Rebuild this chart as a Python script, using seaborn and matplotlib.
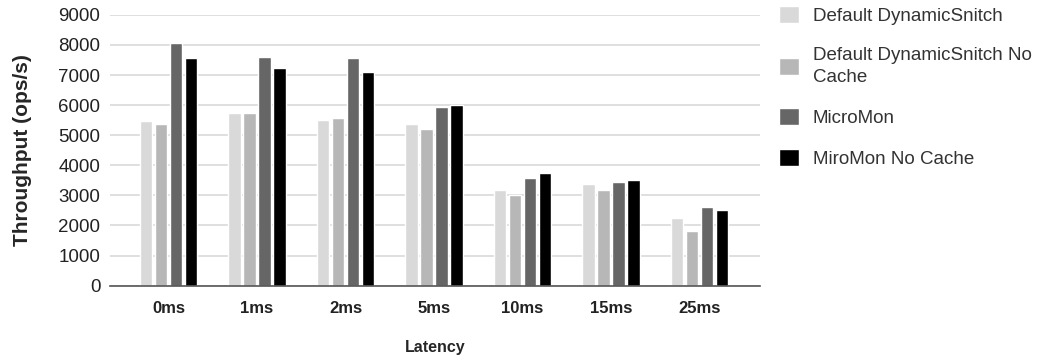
import pandas as pd
import matplotlib
matplotlib.use("Agg")
import matplotlib.pyplot as plt
import seaborn as sns

latency = ["0ms", "1ms", "2ms", "5ms", "10ms", "15ms", "25ms"]
default_snitch = [5480, 5730, 5500, 5370, 3180, 3370, 2240]
default_snitch_nocache = [5370, 5730, 5560, 5200, 3010, 3180, 1830]
micromon = [8050, 7610, 7550, 5930, 3570, 3460, 2620]
micromon_nocache = [7550, 7240, 7110, 6000, 3750, 3510, 2510]

series = ["Default DynamicSnitch", "Default DynamicSnitch No\nCache",
          "MicroMon", "MiroMon No Cache"]
colors = ["#d9d9d9", "#b7b7b7", "#666666", "#000000"]

df = pd.DataFrame({
    "Latency": latency * 4,
    "value": default_snitch + default_snitch_nocache + micromon + micromon_nocache,
    "series": [s for s in series for _ in latency],
})

sns.set_style("white")
plt.rcParams["font.family"] = ["Liberation Sans", "DejaVu Sans"]

fig = plt.figure(figsize=(10.47, 3.62), dpi=100)
ax = fig.add_axes([0.1051, 0.211, 0.6208, 0.748])

sns.barplot(data=df, x="Latency", y="value", hue="series", palette=colors,
            width=0.68, gap=0.17, ax=ax, saturation=1)

ax.set_xlim(-0.661, 6.684)
ax.set_ylim(0, 9000)
ax.set_yticks(range(0, 9001, 1000))
ax.yaxis.grid(True, color="#d9d9d9", linewidth=1.2)
ax.set_axisbelow(True)
for s in ["top", "right", "left"]:
    ax.spines[s].set_visible(False)
ax.spines["bottom"].set_color("#555555")
ax.spines["bottom"].set_linewidth(1.2)
ax.tick_params(axis="both", length=0, colors="#222222")
ax.tick_params(axis="y", labelsize=13.5, pad=7)
ax.tick_params(axis="x", labelsize=12, pad=11)
for lbl in ax.get_xticklabels():
    lbl.set_fontweight("bold")
ax.set_xlabel("Latency", fontsize=11.5, fontweight="bold", labelpad=17)
ax.set_ylabel("Throughput (ops/s)", fontsize=15, fontweight="bold", labelpad=19)

handles, labels = ax.get_legend_handles_labels()
leg = ax.legend(handles, labels, loc="upper left", bbox_to_anchor=(1.003, 1.095),
                frameon=False, fontsize=13.5, handlelength=1.05, handleheight=1.05,
                labelspacing=1.15, handletextpad=0.75, labelcolor="#333333")
for t in leg.get_texts():
    t.set_linespacing(1.45)

fig.savefig("out.png", dpi=100)
